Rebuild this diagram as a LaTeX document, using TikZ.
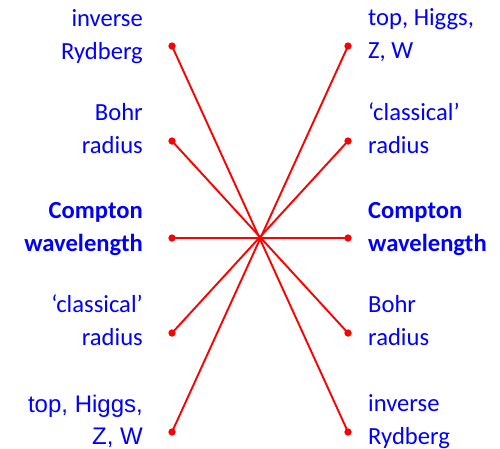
\documentclass[tikz,border=0pt]{standalone}
\usepackage{fontspec}
\setmainfont{Carlito}
\newfontfamily\arialfont{Liberation Sans}
\begin{document}
\begin{tikzpicture}[x=1pt,y=-1pt,
  lab/.style={text=blue, font=\fontsize{24.6}{33}\selectfont, inner sep=0pt},
  labL/.style={lab, align=right, anchor=base east},
  labR/.style={lab, align=left, anchor=base west},
  dotn/.style={circle, fill=red, minimum size=7pt, inner sep=0pt},
  link/.style={red, line width=1.9pt}]
\useasboundingbox (0,0) rectangle (500,448);
% dots
\node[dotn] (L1) at (172,46) {};
\node[dotn] (L2) at (172,141) {};
\node[dotn] (L3) at (172,238) {};
\node[dotn] (L4) at (172,333) {};
\node[dotn] (L5) at (172,432) {};
\node[dotn] (R1) at (348,46) {};
\node[dotn] (R2) at (348,141) {};
\node[dotn] (R3) at (348,238) {};
\node[dotn] (R4) at (348,333) {};
\node[dotn] (R5) at (348,432) {};
% links
\draw[link] (L1.center) -- (R5.center);
\draw[link] (L2.center) -- (R4.center);
\draw[link] (L3.center) -- (R3.center);
\draw[link] (L4.center) -- (R2.center);
\draw[link] (L5.center) -- (R1.center);
\node[dotn] at (L1) {};
\node[dotn] at (L2) {};
\node[dotn] at (L3) {};
\node[dotn] at (L4) {};
\node[dotn] at (L5) {};
\node[dotn] at (R1) {};
\node[dotn] at (R2) {};
\node[dotn] at (R3) {};
\node[dotn] at (R4) {};
\node[dotn] at (R5) {};
% labels left (anchor at baseline of last line)
\node[labL] (tL1) at (143,59) {inverse\\Rydberg};
\node[labL] (tL2) at (143,153) {Bohr\\radius};
\node[labL] (tL3) at (143,251) {\bfseries Compton\\\bfseries wavelength};
\node[labL] (tL4) at (143,345) {‘classical’\\radius};
\node[labL, font=\arialfont\fontsize{24}{32}\selectfont] (tL5) at (143,444) {top, Higgs,\\Z, W};
% labels right
\node[labR] (tR1) at (368,58) {top, Higgs,\\Z, W};
\node[labR] (tR2) at (368,153) {‘classical’\\radius};
\node[labR] (tR3) at (368,251) {\bfseries Compton\\\bfseries wavelength};
\node[labR] (tR4) at (368,345) {Bohr\\radius};
\node[labR] (tR5) at (368,444) {inverse\\Rydberg};
\end{tikzpicture}
\end{document}
